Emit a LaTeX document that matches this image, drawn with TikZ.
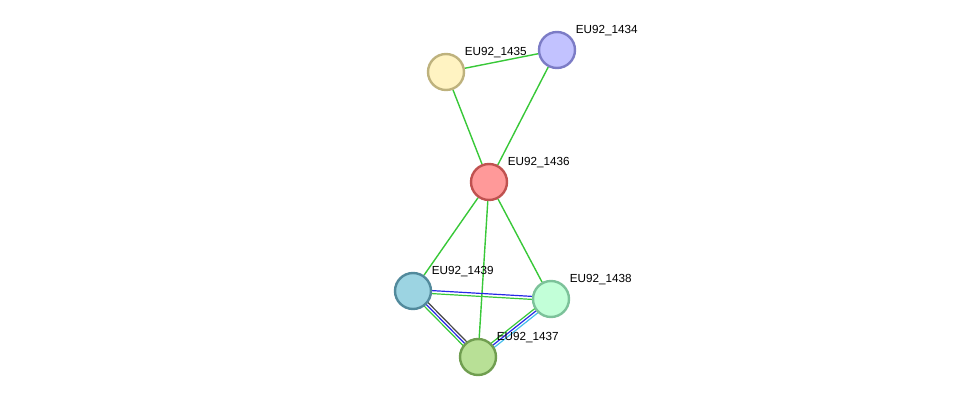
\documentclass[tikz,border=0pt]{standalone}
\usepackage{fontspec}
\setmainfont{Liberation Sans}
\usetikzlibrary{calc, backgrounds}

\definecolor{edgegreen}{RGB}{56,200,56}
\definecolor{edgeblue}{RGB}{40,40,230}
\definecolor{edgegray}{RGB}{70,70,70}
\definecolor{edgecyan}{RGB}{70,190,235}
\definecolor{fillA}{RGB}{194,194,255}\definecolor{lineA}{RGB}{124,124,198}
\definecolor{fillB}{RGB}{255,243,194}\definecolor{lineB}{RGB}{190,178,125}
\definecolor{fillC}{RGB}{255,153,153}\definecolor{lineC}{RGB}{192,82,80}
\definecolor{fillD}{RGB}{156,212,226}\definecolor{lineD}{RGB}{82,138,156}
\definecolor{fillE}{RGB}{194,255,216}\definecolor{lineE}{RGB}{124,194,154}
\definecolor{fillF}{RGB}{184,224,150}\definecolor{lineF}{RGB}{112,158,80}

\begin{document}
\begin{tikzpicture}[x=1pt, y=-1pt,
    prot/.style={circle, draw, line width=2.4pt, minimum size=36pt, inner sep=0pt},
    lbl/.style={inner sep=0pt, xshift=5pt, font=\fontsize{11.7}{14}\selectfont},
    link/.style={line width=1.4pt, draw=edgegreen},
    thin link/.style={line width=1.2pt}]
    \useasboundingbox (0,0) rectangle (975,403);

    \node[prot, fill=fillA, draw=lineA, label={[lbl]45:EU92\_1434}] (p1434) at (557, 50) {};
    \node[prot, fill=fillB, draw=lineB, label={[lbl]45:EU92\_1435}] (p1435) at (446, 72) {};
    \node[prot, fill=fillC, draw=lineC, label={[lbl]45:EU92\_1436}] (p1436) at (489, 182) {};
    \node[prot, fill=fillD, draw=lineD, label={[lbl]45:EU92\_1439}] (p1439) at (413, 291) {};
    \node[prot, fill=fillE, draw=lineE, label={[lbl]45:EU92\_1438}] (p1438) at (551, 299) {};
    \node[prot, fill=fillF, draw=lineF, label={[lbl]45:EU92\_1437}] (p1437) at (478, 357) {};

    \begin{scope}[on background layer]
        \draw[link] (p1435) -- (p1434);
        \draw[link] (p1435) -- (p1436);
        \draw[link] (p1434) -- (p1436);
        \draw[link] (p1436) -- (p1439);
        \draw[link] (p1436) -- (p1437);
        \draw[link] (p1436) -- (p1438);
        % multi-evidence links
        \foreach \off/\col in {1.5/edgeblue, -1.5/edgegreen}
            \draw[thin link, draw=\col] ($(p1439)!\off pt!90:(p1438)$) -- ($(p1438)!\off pt!-90:(p1439)$);
        \foreach \off/\col in {2.6/edgegray, 0/edgeblue, -2.6/edgegreen}
            \draw[thin link, draw=\col] ($(p1439)!\off pt!90:(p1437)$) -- ($(p1437)!\off pt!-90:(p1439)$);
        \foreach \off/\col in {2.6/edgecyan, 0/edgeblue, -2.6/edgegreen}
            \draw[thin link, draw=\col] ($(p1438)!\off pt!90:(p1437)$) -- ($(p1437)!\off pt!-90:(p1438)$);
    \end{scope}
\end{tikzpicture}
\end{document}
